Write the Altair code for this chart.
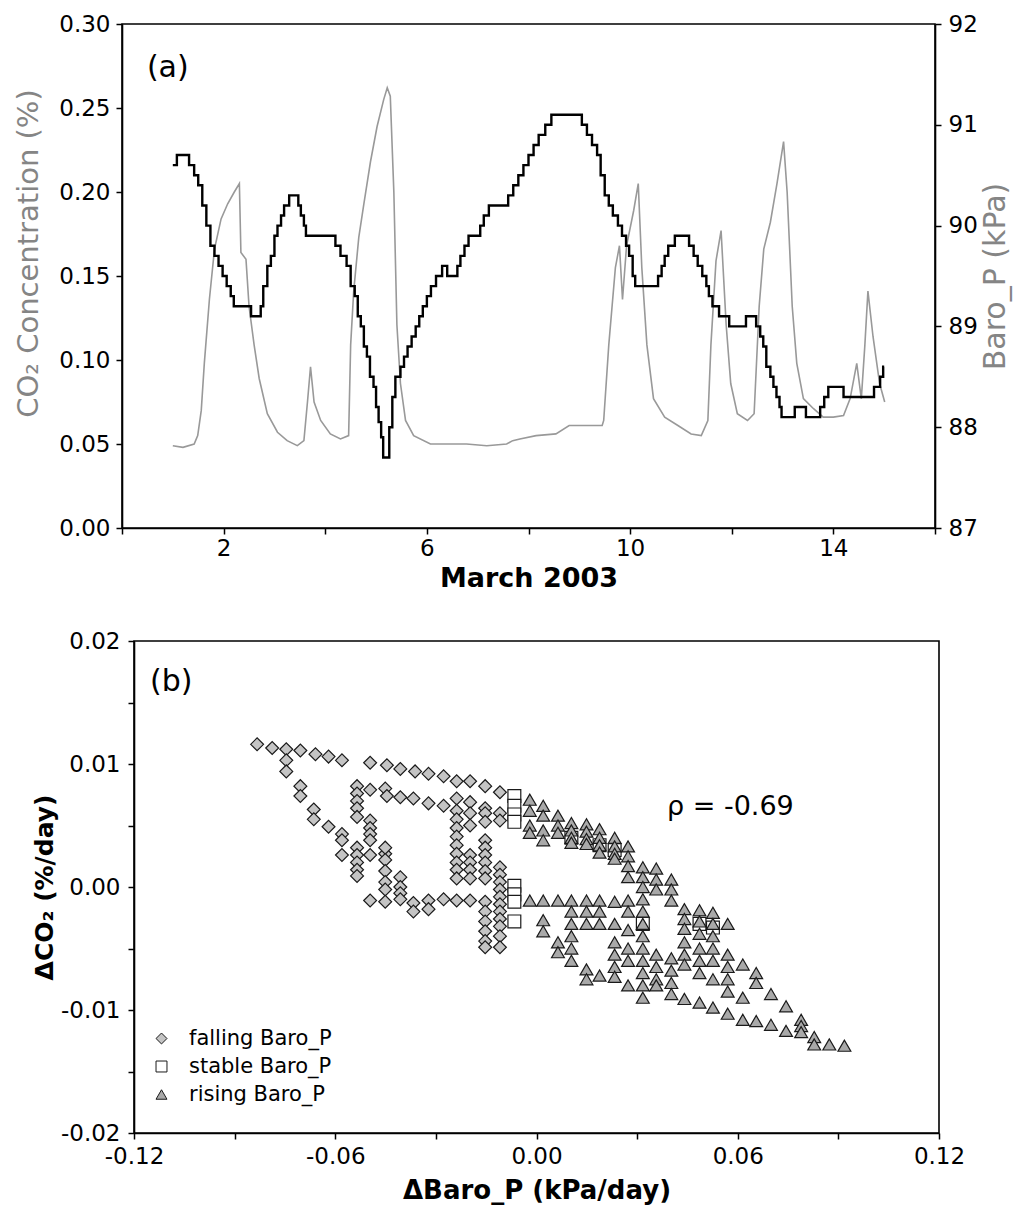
import altair as alt
import pandas as pd

FONT = "DejaVu Sans"
W, H = 1017, 1211

# ---------------- Panel (a) data ----------------
co2_day = [1.00, 1.20, 1.42, 1.49, 1.56, 1.62, 1.72, 1.82, 1.95, 2.08, 2.21, 2.31, 2.34, 2.44, 2.50,
           2.60, 2.70, 2.86, 3.06, 3.25, 3.45, 3.58, 3.65, 3.71, 3.78, 3.91, 4.10, 4.30, 4.46, 4.50,
           4.56, 4.66, 4.76, 4.89, 5.02, 5.15, 5.22, 5.28, 5.35, 5.41, 5.48, 5.58, 5.74, 6.07, 6.46,
           6.78, 7.18, 7.57, 7.69, 7.83, 8.15, 8.54, 8.80, 9.12, 9.45, 9.48, 9.58, 9.71, 9.79, 9.85,
           9.93, 10.07, 10.16, 10.23, 10.33, 10.46, 10.68, 10.94, 11.20, 11.40, 11.53, 11.59, 11.69,
           11.79, 11.89, 11.98, 12.11, 12.31, 12.44, 12.54, 12.63, 12.76, 12.89, 13.02, 13.09, 13.19,
           13.28, 13.41, 13.61, 13.80, 14.00, 14.20, 14.33, 14.46, 14.55, 14.62, 14.68, 14.78, 14.91, 15.01]
co2_val = [0.049, 0.048, 0.050, 0.055, 0.070, 0.098, 0.136, 0.166, 0.184, 0.193, 0.200, 0.205, 0.164, 0.160, 0.132,
           0.109, 0.089, 0.068, 0.057, 0.052, 0.049, 0.052, 0.075, 0.096, 0.075, 0.064, 0.056, 0.053, 0.055, 0.109,
           0.141, 0.173, 0.193, 0.218, 0.239, 0.255, 0.262, 0.257, 0.200, 0.121, 0.086, 0.064, 0.055, 0.050, 0.050,
           0.050, 0.049, 0.050, 0.052, 0.053, 0.055, 0.056, 0.061, 0.061, 0.061, 0.064, 0.109, 0.155, 0.168, 0.136,
           0.168, 0.189, 0.205, 0.155, 0.109, 0.077, 0.066, 0.061, 0.056, 0.055, 0.064, 0.109, 0.159,
           0.177, 0.121, 0.086, 0.068, 0.064, 0.068, 0.132, 0.166, 0.182, 0.205, 0.230, 0.200, 0.132,
           0.098, 0.077, 0.071, 0.066, 0.066, 0.067, 0.077, 0.098, 0.077, 0.109, 0.141, 0.114, 0.086, 0.075]

baro_day = [1.00, 1.08, 1.32, 1.42, 1.50, 1.58, 1.66, 1.74, 1.82, 1.90, 1.98, 2.06, 2.14, 2.20, 2.54,
            2.73, 2.78, 2.86, 2.93, 3.00, 3.06, 3.13, 3.19, 3.29, 3.47, 3.52, 3.58, 3.62, 4.20, 4.30,
            4.42, 4.50, 4.58, 4.64, 4.70, 4.76, 4.82, 4.88, 4.95, 5.00, 5.05, 5.10, 5.14, 5.26, 5.32,
            5.38, 5.48, 5.55, 5.62, 5.70, 5.78, 5.85, 5.92, 6.00, 6.08, 6.18, 6.30, 6.40, 6.60, 6.66,
            6.74, 6.82, 7.05, 7.12, 7.22, 7.60, 7.70, 7.80, 7.90, 8.00, 8.10, 8.20, 8.33, 8.45, 9.05,
            9.15, 9.25, 9.35, 9.42, 9.50, 9.58, 9.66, 9.76, 9.84, 9.92, 9.98, 10.05, 10.10, 10.55, 10.62,
            10.68, 10.75, 10.88, 11.16, 11.25, 11.33, 11.42, 11.50, 11.55, 11.62, 11.75, 11.95, 12.28, 12.48,
            12.56, 12.62, 12.68, 12.76, 12.82, 12.88, 12.94, 12.98, 13.24, 13.46, 13.74, 13.82, 13.90, 14.20,
            14.80, 14.92, 14.98, 15.00]
baro_val = [90.6, 90.7, 90.6, 90.5, 90.4, 90.2, 90.0, 89.8, 89.7, 89.6, 89.5, 89.4, 89.3, 89.2, 89.1,
            89.2, 89.4, 89.6, 89.7, 89.9, 90.0, 90.1, 90.2, 90.3, 90.2, 90.1, 90.0, 89.9, 89.8, 89.7,
            89.6, 89.4, 89.3, 89.1, 89.0, 88.8, 88.7, 88.5, 88.4, 88.2, 88.05, 87.9, 87.7, 88.0, 88.3,
            88.5, 88.6, 88.7, 88.8, 88.9, 89.0, 89.1, 89.2, 89.3, 89.4, 89.5, 89.6, 89.5, 89.6, 89.7,
            89.8, 89.9, 90.0, 90.1, 90.2, 90.3, 90.4, 90.5, 90.6, 90.7, 90.8, 90.9, 91.0, 91.1, 91.0,
            90.9, 90.8, 90.7, 90.5, 90.3, 90.2, 90.1, 90.0, 89.9, 89.8, 89.7, 89.5, 89.4, 89.5, 89.6,
            89.7, 89.8, 89.9, 89.8, 89.7, 89.6, 89.5, 89.4, 89.3, 89.2, 89.1, 89.0, 89.1, 89.0,
            88.9, 88.8, 88.6, 88.5, 88.4, 88.3, 88.2, 88.1, 88.2, 88.1, 88.2, 88.3, 88.4, 88.3,
            88.4, 88.5, 88.6, 88.6]

# ---------------- Panel (b) data ----------------
falling_pts = [
    (-0.0833, 0.0116), (-0.0788, 0.0113), (-0.0746, 0.0112), (-0.0704, 0.0111), (-0.0659, 0.0108),
    (-0.0620, 0.0106), (-0.0580, 0.0103), (-0.0496, 0.0101), (-0.0446, 0.0099), (-0.0406, 0.0096),
    (-0.0362, 0.0094), (-0.0322, 0.0092), (-0.0277, 0.0090), (-0.0238, 0.0086), (-0.0198, 0.0086),
    (-0.0153, 0.0082), (-0.0109, 0.0077),
    (-0.0746, 0.0103), (-0.0746, 0.0094), (-0.0704, 0.0082), (-0.0704, 0.0074), (-0.0664, 0.0063),
    (-0.0664, 0.0055), (-0.0620, 0.0049), (-0.0580, 0.0043), (-0.0580, 0.0038), (-0.0580, 0.0026),
    (-0.0496, 0.0026), (-0.0451, 0.0027),
    (-0.0535, 0.0082), (-0.0496, 0.0079), (-0.0451, 0.0080), (-0.0446, 0.0074), (-0.0406, 0.0073),
    (-0.0367, 0.0072), (-0.0322, 0.0068), (-0.0277, 0.0066), (-0.0238, 0.0072), (-0.0198, 0.0069),
    (-0.0153, 0.0064), (-0.0109, 0.0060),
    (-0.0535, 0.0076), (-0.0535, 0.0070), (-0.0535, 0.0064), (-0.0535, 0.0057), (-0.0535, 0.0032),
    (-0.0535, 0.0026), (-0.0535, 0.0020), (-0.0535, 0.0014), (-0.0535, 0.0009),
    (-0.0496, 0.0054), (-0.0496, 0.0048), (-0.0496, 0.0043), (-0.0496, 0.0038),
    (-0.0451, 0.0032), (-0.0451, 0.0022), (-0.0451, 0.0013), (-0.0451, 0.0004), (-0.0451, -0.0002),
    (-0.0406, 0.0008), (-0.0406, 0.0000), (-0.0406, -0.0005),
    (-0.0496, -0.0011), (-0.0451, -0.0012), (-0.0406, -0.0010), (-0.0367, -0.0013), (-0.0322, -0.0011),
    (-0.0277, -0.0010), (-0.0238, -0.0011), (-0.0198, -0.0011), (-0.0153, -0.0012), (-0.0367, -0.0020),
    (-0.0322, -0.0018),
    (-0.0238, 0.0062), (-0.0238, 0.0055), (-0.0238, 0.0048), (-0.0238, 0.0041), (-0.0238, 0.0034),
    (-0.0238, 0.0027), (-0.0238, 0.0020), (-0.0238, 0.0014), (-0.0238, 0.0007),
    (-0.0198, 0.0060), (-0.0198, 0.0050), (-0.0198, 0.0026), (-0.0198, 0.0020), (-0.0198, 0.0014),
    (-0.0198, 0.0007),
    (-0.0153, 0.0060), (-0.0153, 0.0053), (-0.0153, 0.0038), (-0.0153, 0.0032), (-0.0153, 0.0026),
    (-0.0153, 0.0020), (-0.0153, 0.0013), (-0.0153, 0.0007), (-0.0153, -0.0020), (-0.0153, -0.0028),
    (-0.0153, -0.0036), (-0.0153, -0.0044), (-0.0153, -0.0049),
    (-0.0109, 0.0054), (-0.0109, 0.0016), (-0.0109, 0.0010), (-0.0109, 0.0004), (-0.0109, -0.0002),
    (-0.0109, -0.0008), (-0.0109, -0.0014), (-0.0109, -0.0020), (-0.0109, -0.0026), (-0.0109, -0.0032),
    (-0.0109, -0.0040), (-0.0109, -0.0049),
]
stable_pts = [
    (-0.0066, 0.0074), (-0.0066, 0.0066), (-0.0066, 0.0059), (-0.0066, 0.0053),
    (-0.0066, 0.0001), (-0.0066, -0.0006), (-0.0066, -0.0012), (-0.0066, -0.0028),
    (0.0104, 0.0040), (0.0188, 0.0034), (0.0233, 0.0030), (0.0317, -0.0030), (0.0486, -0.0030),
    (0.0526, -0.0033),
]
rising_pts = [
    (-0.0020, 0.0071), (-0.0020, 0.0062), (-0.0020, 0.0050), (-0.0020, 0.0044),
    (0.0020, 0.0066), (0.0020, 0.0058), (0.0020, 0.0046), (0.0020, 0.0038),
    (0.0064, 0.0058), (0.0064, 0.0050), (0.0064, 0.0044),
    (0.0104, 0.0052), (0.0104, 0.0046), (0.0104, 0.0040), (0.0104, 0.0036),
    (0.0149, 0.0051), (0.0149, 0.0045), (0.0149, 0.0039), (0.0149, 0.0035),
    (0.0188, 0.0047), (0.0188, 0.0040), (0.0188, 0.0034), (0.0188, 0.0028),
    (0.0233, 0.0040), (0.0233, 0.0033), (0.0233, 0.0027), (0.0233, 0.0023),
    (0.0273, 0.0033), (0.0273, 0.0025), (0.0273, 0.0017), (0.0273, 0.0008),
    (0.0317, 0.0016), (0.0317, 0.0008), (0.0317, 0.0000), (0.0317, -0.0010), (0.0317, -0.0020),
    (0.0317, -0.0030), (0.0317, -0.0040), (0.0317, -0.0050), (0.0317, -0.0060), (0.0317, -0.0070),
    (0.0317, -0.0080), (0.0317, -0.0090),
    (0.0357, 0.0015), (0.0357, 0.0006), (0.0357, -0.0002), (0.0357, -0.0055), (0.0357, -0.0065),
    (0.0357, -0.0075), (0.0357, -0.0080),
    (0.0402, 0.0006), (0.0402, -0.0002), (0.0402, -0.0011), (0.0402, -0.0058), (0.0402, -0.0068),
    (0.0402, -0.0078), (0.0402, -0.0087),
    (0.0441, -0.0018), (0.0441, -0.0026), (0.0441, -0.0034), (0.0441, -0.0045), (0.0441, -0.0055),
    (0.0441, -0.0063), (0.0441, -0.0091),
    (0.0486, -0.0019), (0.0486, -0.0028), (0.0486, -0.0038), (0.0486, -0.0050), (0.0486, -0.0060),
    (0.0486, -0.0070), (0.0486, -0.0094),
    (0.0526, -0.0021), (0.0526, -0.0030), (0.0526, -0.0040), (0.0526, -0.0050), (0.0526, -0.0060),
    (0.0526, -0.0075), (0.0526, -0.0098),
    (0.0570, -0.0030), (0.0570, -0.0055), (0.0570, -0.0065), (0.0570, -0.0075), (0.0570, -0.0085),
    (0.0570, -0.0103),
    (0.0615, -0.0063), (0.0615, -0.0090), (0.0615, -0.0108),
    (0.0655, -0.0070), (0.0655, -0.0078), (0.0655, -0.0109),
    (0.0699, -0.0087), (0.0699, -0.0112),
    (0.0744, -0.0097), (0.0744, -0.0117),
    (0.0789, -0.0108), (0.0789, -0.0113), (0.0789, -0.0118),
    (0.0828, -0.0122), (0.0828, -0.0128),
    (0.0873, -0.0128),
    (0.0918, -0.0129),
    (-0.0020, -0.0011), (0.0020, -0.0011), (0.0064, -0.0011), (0.0104, -0.0011), (0.0149, -0.0011),
    (0.0188, -0.0011), (0.0233, -0.0012), (0.0273, -0.0011),
    (0.0020, -0.0027), (0.0020, -0.0036), (0.0064, -0.0045), (0.0064, -0.0053), (0.0104, -0.0020),
    (0.0104, -0.0030), (0.0104, -0.0040), (0.0104, -0.0050), (0.0104, -0.0060), (0.0149, -0.0020),
    (0.0149, -0.0030), (0.0149, -0.0067), (0.0149, -0.0075), (0.0188, -0.0020), (0.0188, -0.0030),
    (0.0188, -0.0072), (0.0233, -0.0030), (0.0233, -0.0045), (0.0233, -0.0055), (0.0233, -0.0065),
    (0.0233, -0.0073), (0.0273, -0.0020), (0.0273, -0.0035), (0.0273, -0.0050), (0.0273, -0.0060),
    (0.0273, -0.0080),
]
categories = ["falling Baro_P", "stable Baro_P", "rising Baro_P"]
cat_shapes = ["diamond", "square", "triangle-up"]
cat_fills = ["#c4c4c4", "#ffffff", "#a9a9a9"]
cat_strokes = ["#1a1a1a", "#1a1a1a", "#1a1a1a"]

# ---------------- tables ----------------
co2_df = pd.DataFrame({"day": co2_day, "co2": co2_val})
baro_df = pd.DataFrame({"day": baro_day, "baro": baro_val})
rows = []
for cat, pts in zip(categories, [falling_pts, stable_pts, rising_pts]):
    for (px, py) in pts:
        rows.append({"dbaro": px, "dco2": py, "cat": cat})
scat_df = pd.DataFrame(rows)

# panel geometry (pixel ranges of the two plot areas)
A_L, A_R, A_T, A_B = 122, 935, 24, 528
B_L, B_R, B_T, B_B = 134, 939, 641, 1133

day_dom = [0, 16]
co2_dom = [0, 0.30]
baro_dom = [87, 92]
dx_dom = [-0.12, 0.12]
dy_dom = [-0.02, 0.02]

xs_day = alt.Scale(domain=day_dom, range=[A_L, A_R], nice=False, zero=False)
ys_co2 = alt.Scale(domain=co2_dom, range=[A_B, A_T], nice=False, zero=False)
ys_baro = alt.Scale(domain=baro_dom, range=[A_B, A_T], nice=False, zero=False)
xs_b = alt.Scale(domain=dx_dom, range=[B_L, B_R], nice=False, zero=False)
ys_b = alt.Scale(domain=dy_dom, range=[B_B, B_T], nice=False, zero=False)

common_axis = dict(grid=False, labelFont=FONT, labelFontSize=23, labelColor="black",
                   tickColor="black", tickWidth=1.5, tickSize=6, domainColor="black",
                   domainWidth=1.6, labelFlush=False, labelOverlap=False, titleFont=FONT)

ax_a_x = alt.Axis(orient="bottom", offset=A_B - H, values=list(range(0, 17, 2)),
                  labelExpr="datum.value % 4 == 2 ? format(datum.value, 'd') : ''",
                  labelPadding=3, title="March 2003", titleFontSize=27, titleFontWeight="bold",
                  titleColor="black", titlePadding=5, **common_axis)
ax_a_y = alt.Axis(orient="left", offset=-A_L, values=[0, 0.05, 0.10, 0.15, 0.20, 0.25, 0.30],
                  format=".2f", labelPadding=6, title="CO₂ Concentration (%)", titleFontSize=29,
                  titleFontWeight="normal", titleColor="#858585", titlePadding=15, titleY=253,
                  **common_axis)
ax_a_y2 = alt.Axis(orient="right", offset=A_R - W, values=[87, 88, 89, 90, 91, 92], format="d",
                   labelPadding=7, title="Baro_P (kPa)", titleFontSize=30, titleFontWeight="normal",
                   titleColor="#858585", titleAngle=270, titleBaseline="top", titlePadding=3,
                   **common_axis)
ax_b_x = alt.Axis(orient="bottom", offset=B_B - H,
                  values=[-0.12, -0.09, -0.06, -0.03, 0.0, 0.03, 0.06, 0.09, 0.12],
                  labelExpr="abs(round(datum.value * 100)) % 6 == 0 ? replace(format(datum.value, '.2f'), '\u2212', '-') : ''",
                  labelPadding=6, title="ΔBaro_P  (kPa/day)", titleFontSize=26, titleFontWeight="bold",
                  titleColor="black", titlePadding=9, **common_axis)
ax_b_y = alt.Axis(orient="left", offset=-B_L,
                  values=[-0.02, -0.015, -0.01, -0.005, 0.0, 0.005, 0.01, 0.015, 0.02],
                  labelExpr="round(datum.value * 1000) % 10 == 0 ? replace(format(datum.value, '.2f'), '\u2212', '-') : ''",
                  labelPadding=8, title="ΔCO₂ (%/day)", titleFontSize=25, titleFontWeight="bold",
                  titleColor="black", titlePadding=3, **common_axis)

# ---------------- panel (a) ----------------
frame_a_df = pd.DataFrame({"x0": [day_dom[0]], "x1": [day_dom[1]], "y0": [co2_dom[0]], "y1": [co2_dom[1]]})
frame_a = alt.Chart(frame_a_df).mark_rect(fillOpacity=0, stroke="black", strokeWidth=1.6).encode(
    x=alt.X("x0:Q", scale=xs_day, axis=ax_a_x), x2="x1:Q",
    y=alt.Y("y0:Q", scale=ys_co2, axis=None), y2="y1:Q")

co2_line = alt.Chart(co2_df).mark_line(color="#999999", strokeWidth=1.6).encode(
    x=alt.X("day:Q", scale=xs_day, axis=ax_a_x),
    y=alt.Y("co2:Q", scale=ys_co2, axis=ax_a_y))

baro_line = alt.Chart(baro_df).mark_line(color="black", strokeWidth=2.4, interpolate="step-after").encode(
    x=alt.X("day:Q", scale=xs_day, axis=ax_a_x),
    y=alt.Y("baro:Q", scale=ys_baro, axis=ax_a_y2))

lab_a_df = pd.DataFrame({"day": [0.49], "co2": [0.2685], "t": ["(a)"]})
lab_a = alt.Chart(lab_a_df).mark_text(align="left", baseline="alphabetic", font=FONT, fontSize=30,
                                      color="black").encode(
    x=alt.X("day:Q", scale=xs_day, axis=ax_a_x), y=alt.Y("co2:Q", scale=ys_co2, axis=None), text="t:N")

panel_a = alt.layer(frame_a, co2_line, baro_line, lab_a).resolve_scale(y="independent")

# ---------------- panel (b) ----------------
frame_b_df = pd.DataFrame({"x0": [dx_dom[0]], "x1": [dx_dom[1]], "y0": [dy_dom[0]], "y1": [dy_dom[1]]})
frame_b = alt.Chart(frame_b_df).mark_rect(fillOpacity=0, stroke="black", strokeWidth=1.6).encode(
    x=alt.X("x0:Q", scale=xs_b, axis=ax_b_x), x2="x1:Q",
    y=alt.Y("y0:Q", scale=ys_b, axis=ax_b_y), y2="y1:Q")

leg = alt.Legend(title=None, orient="none", legendX=151, legendY=1028, padding=0,
                 labelFont=FONT, labelFontSize=21, labelColor="black", labelOffset=17,
                 symbolSize=120, symbolStrokeWidth=1, rowPadding=6)
points = alt.Chart(scat_df).mark_point(filled=True, strokeWidth=1.2, size=165, opacity=1).encode(
    x=alt.X("dbaro:Q", scale=xs_b),
    y=alt.Y("dco2:Q", scale=ys_b),
    shape=alt.Shape("cat:N", scale=alt.Scale(domain=categories, range=cat_shapes), legend=leg,
                    sort=categories),
    fill=alt.Fill("cat:N", scale=alt.Scale(domain=categories, range=cat_fills), legend=leg,
                  sort=categories),
    stroke=alt.Stroke("cat:N", scale=alt.Scale(domain=categories, range=cat_strokes), legend=leg,
                      sort=categories),
)

ann_b_df = pd.DataFrame({"dbaro": [-0.1152, 0.0389], "dco2": [0.01593, 0.00585],
                         "t": ["(b)", "ρ = -0.69"], "fs": [30, 27]})
ann_b = alt.Chart(ann_b_df).mark_text(align="left", baseline="alphabetic", font=FONT,
                                      color="black").encode(
    x=alt.X("dbaro:Q", scale=xs_b), y=alt.Y("dco2:Q", scale=ys_b), text="t:N",
    size=alt.Size("fs:Q", scale=None, legend=None))

panel_b = alt.layer(frame_b, points, ann_b)

chart = alt.layer(panel_a, panel_b).resolve_scale(
    x="independent", y="independent"
).properties(
    width=W, height=H, autosize=alt.AutoSizeParams(type="none"), padding=0, background="white"
).configure_view(strokeWidth=0)

chart.save("out.html", embed_options={"renderer": "svg", "actions": False})
